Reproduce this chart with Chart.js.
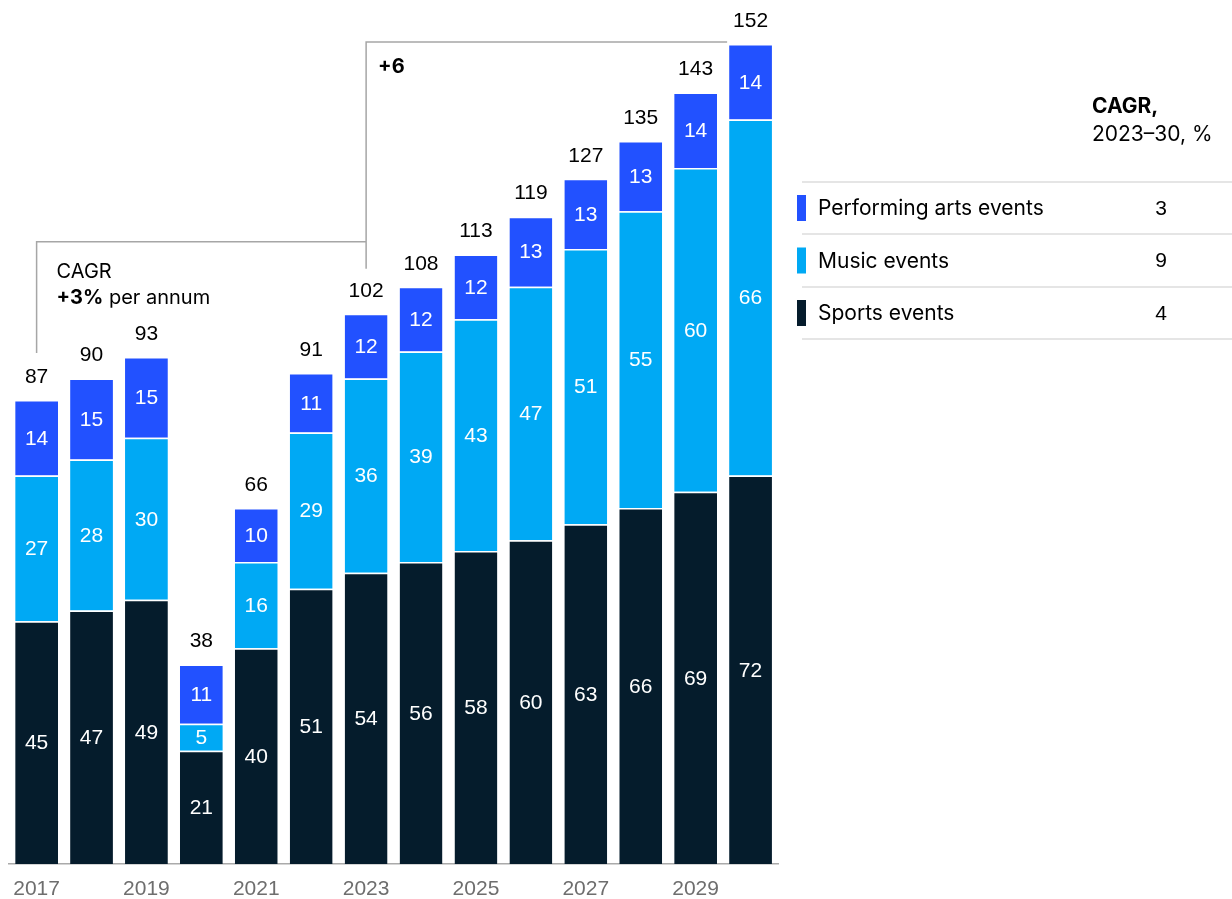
<!DOCTYPE html>
<html>
<head>
<meta charset="utf-8">
<script src="https://cdn.jsdelivr.net/npm/chart.js@4/dist/chart.umd.min.js"></script>
<style>
  html, body { margin: 0; padding: 0; background: #fff; }
  #wrap { width: 1232px; height: 899px; position: relative; }
</style>
</head>
<body>
<div id="wrap"><canvas id="chart"></canvas></div>
<script>
'use strict';

const years = ['2017', '2018', '2019', '2020', '2021', '2022', '2023', '2024', '2025', '2026', '2027', '2028', '2029', '2030'];
const sports = [45, 47, 49, 21, 40, 51, 54, 56, 58, 60, 63, 66, 69, 72];
const music = [27, 28, 30, 5, 16, 29, 36, 39, 43, 47, 51, 55, 60, 66];
const performing = [14, 15, 15, 11, 10, 11, 12, 12, 12, 13, 13, 13, 14, 14];
const totals = [87, 90, 93, 38, 66, 91, 102, 108, 113, 119, 127, 135, 143, 152];

const seriesNames = ['Performing arts events', 'Music events', 'Sports events'];
const seriesCagr = ['3', '9', '4'];
const seriesColors = ['#2251ff', '#00a9f4', '#051c2c'];

const FONT = '"Liberation Sans", Arial, sans-serif';
const TEXT_FONT = 'Inter, "Liberation Sans", sans-serif';

const annotations = {
    id: 'annotations',
    afterDatasetsDraw: function (chart) {
        const ctx = chart.ctx;
        const topMeta = chart.getDatasetMeta(2);
        ctx.save();
        ctx.textAlign = 'center';
        ctx.textBaseline = 'middle';

        // values inside the segments
        ctx.font = '21px ' + FONT;
        ctx.fillStyle = '#ffffff';
        chart.data.datasets.forEach(function (ds, di) {
            chart.getDatasetMeta(di).data.forEach(function (bar, i) {
                ctx.fillText(String(ds.data[i]), bar.x, (bar.y + bar.base) / 2 + 1);
            });
        });

        // totals above each bar
        ctx.fillStyle = '#000000';
        ctx.font = '21px ' + FONT;
        topMeta.data.forEach(function (bar, i) {
            ctx.fillText(String(totals[i]), bar.x, bar.y - 23);
        });

        // brackets
        const b0 = topMeta.data[0];
        const b6 = topMeta.data[6];
        const bLast = topMeta.data[topMeta.data.length - 1];
        const level = b6.y - 72;
        ctx.strokeStyle = '#a6a6a6';
        ctx.lineWidth = 1.5;
        ctx.beginPath();
        ctx.moveTo(b0.x, b0.y - 47);
        ctx.lineTo(b0.x, level);
        ctx.lineTo(b6.x, level);
        ctx.lineTo(b6.x, b6.y - 45);
        ctx.moveTo(b6.x, level);
        ctx.lineTo(b6.x, bLast.y - 2);
        ctx.lineTo(bLast.x - bLast.width / 2 - 2, bLast.y - 2);
        ctx.stroke();

        ctx.textAlign = 'left';
        ctx.fillStyle = '#000000';
        ctx.font = '20px ' + TEXT_FONT;
        ctx.fillText('CAGR', b0.x + 20, level + 30);
        ctx.font = 'bold 20px ' + TEXT_FONT;
        ctx.fillText('+3%', b0.x + 20, level + 56);
        const w = ctx.measureText('+3%').width;
        ctx.font = '20px ' + TEXT_FONT;
        ctx.fillText(' per annum', b0.x + 20 + w, level + 56);
        ctx.font = 'bold 20px ' + TEXT_FONT;
        ctx.fillText('+6', b6.x + 12, bLast.y + 23);

        // legend table on the right
        ctx.font = 'bold 21px ' + TEXT_FONT;
        ctx.fillText('CAGR,', 1092, 107);
        ctx.font = '21px ' + TEXT_FONT;
        ctx.fillText('2023\u201330, %', 1092, 135);
        ctx.strokeStyle = '#cccccc';
        ctx.lineWidth = 1.2;
        const rowY = [182, 234, 287, 339];
        rowY.forEach(function (y) {
            ctx.beginPath();
            ctx.moveTo(802, y);
            ctx.lineTo(1232, y);
            ctx.stroke();
        });
        seriesNames.forEach(function (name, i) {
            const cy = (rowY[i] + rowY[i + 1]) / 2;
            ctx.fillStyle = seriesColors[i];
            ctx.fillRect(797, cy - 13, 9, 26);
            ctx.fillStyle = '#000000';
            ctx.textAlign = 'left';
            ctx.font = '21px ' + TEXT_FONT;
            ctx.fillText(name, 818, cy + 1);
            ctx.textAlign = 'center';
            ctx.font = '21px ' + FONT;
            ctx.fillText(seriesCagr[i], 1161, cy + 1);
        });
        ctx.restore();
    }
};

const segment = function (label, data, color) {
    return {
        label: label,
        data: data,
        backgroundColor: color,
        borderColor: '#ffffff',
        borderWidth: { top: 1.5, bottom: 0, left: 0, right: 0 },
        borderSkipped: false,
        barPercentage: 0.78,
        categoryPercentage: 1.0,
        stack: 'all'
    };
};

const ctx = document.getElementById('chart').getContext('2d');
const myChart = new Chart(ctx, {
    type: 'bar',
    data: {
        labels: years,
        datasets: [
            segment('Sports events', sports, seriesColors[2]),
            segment('Music events', music, seriesColors[1]),
            segment('Performing arts events', performing, seriesColors[0])
        ]
    },
    options: {
        responsive: true,
        maintainAspectRatio: false,
        animation: false,
        layout: { padding: { left: 7, right: 454, top: 44, bottom: 0 } },
        plugins: { legend: { display: false }, tooltip: { enabled: false } },
        scales: {
            x: {
                stacked: true,
                grid: { display: false, drawTicks: false },
                border: { display: true, color: '#aaaaaa', width: 1.5 },
                ticks: {
                    autoSkip: false,
                    maxRotation: 0,
                    padding: 13,
                    color: '#6e6e6e',
                    font: { family: FONT, size: 21 },
                    callback: function (value, index) {
                        return index % 2 === 0 ? years[index] : '';
                    }
                },
                afterFit: function (scale) { scale.height = 35; }
            },
            y: {
                stacked: true,
                display: false,
                min: 0,
                max: 152
            }
        }
    },
    plugins: [annotations]
});
</script>
</body>
</html>
